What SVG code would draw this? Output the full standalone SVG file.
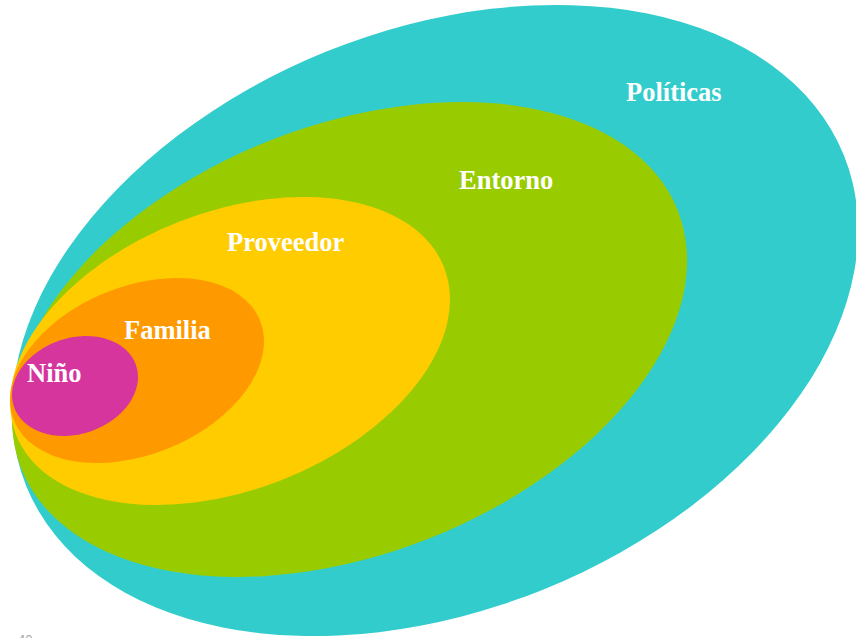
<svg xmlns="http://www.w3.org/2000/svg" width="856" height="638" viewBox="0 0 856 638">
  <style>
    .lbl { font-family: "Liberation Serif", "Times New Roman", serif; font-weight: bold; font-size: 26.5px; fill: #ffffff; }
    .pg { font-family: "Liberation Sans", Arial, sans-serif; font-size: 13px; fill: #a6a6a6; }
  </style>
  <rect width="856" height="638" fill="#ffffff"/>
  <!-- nested ecological levels, outermost first -->
  <g id="politicas">
    <ellipse cx="435" cy="320.5" rx="441" ry="290" transform="rotate(-22 435 320.5)" fill="#33CCCC"/>
    <text class="lbl" x="626" y="101">Políticas</text>
  </g>
  <g id="entorno">
    <ellipse cx="349.5" cy="339.5" rx="352.7" ry="214.3" transform="rotate(-21.4 349.5 339.5)" fill="#99CC00"/>
    <text class="lbl" x="459" y="189">Entorno</text>
  </g>
  <g id="proveedor">
    <ellipse cx="230" cy="351" rx="229.8" ry="139" transform="rotate(-21.3 230 351)" fill="#FFCC00"/>
    <text class="lbl" x="227" y="251">Proveedor</text>
  </g>
  <g id="familia">
    <ellipse cx="137" cy="370.5" rx="132.8" ry="84" transform="rotate(-22.2 137 370.5)" fill="#FF9900"/>
    <text class="lbl" x="124" y="339">Familia</text>
  </g>
  <g id="nino">
    <ellipse cx="75" cy="386" rx="64.5" ry="48" transform="rotate(-18.7 75 386)" fill="#D6359E"/>
    <text class="lbl" x="27" y="382">Niño</text>
  </g>
  <g id="connectors"/>
  <!-- page number, partly below the bottom edge -->
  <text class="pg" x="18" y="644">40</text>
</svg>
